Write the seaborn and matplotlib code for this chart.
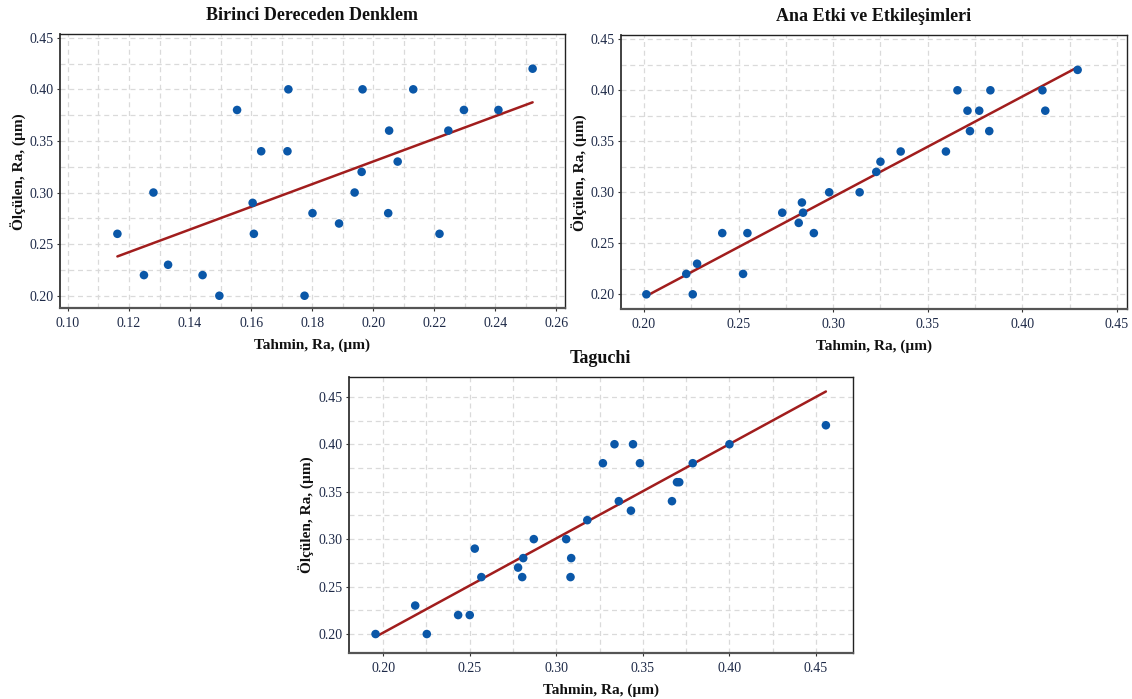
import numpy as np
import pandas as pd
import matplotlib
matplotlib.use("Agg")
import matplotlib.pyplot as plt
from matplotlib.ticker import MultipleLocator, FormatStrFormatter
import seaborn as sns

# Birinci Dereceden Denklem: predicted vs measured Ra
birinci_tahmin = [0.1162, 0.1249, 0.1280, 0.1328, 0.1441, 0.1496, 0.1554, 0.1605, 0.1609,
                  0.1633, 0.1719, 0.1722, 0.1775, 0.1801, 0.1888, 0.1939, 0.1962, 0.1965,
                  0.2049, 0.2052, 0.2080, 0.2131, 0.2217, 0.2246, 0.2297, 0.2410, 0.2522]
birinci_olculen = [0.26, 0.22, 0.30, 0.23, 0.22, 0.20, 0.38, 0.29, 0.26,
                   0.34, 0.34, 0.40, 0.20, 0.28, 0.27, 0.30, 0.32, 0.40,
                   0.28, 0.36, 0.33, 0.40, 0.26, 0.36, 0.38, 0.38, 0.42]

# Ana Etki ve Etkileşimleri
etki_tahmin = [0.2013, 0.2224, 0.2258, 0.2281, 0.2414, 0.2524, 0.2547, 0.2731, 0.2818,
               0.2835, 0.2841, 0.2898, 0.2979, 0.3140, 0.3228, 0.3250, 0.3357, 0.3596,
               0.3657, 0.3710, 0.3723, 0.3772, 0.3825, 0.3831, 0.4106, 0.4121, 0.4292]
etki_olculen = [0.20, 0.22, 0.20, 0.23, 0.26, 0.22, 0.26, 0.28, 0.27,
                0.29, 0.28, 0.26, 0.30, 0.30, 0.32, 0.33, 0.34, 0.34,
                0.40, 0.38, 0.36, 0.38, 0.36, 0.40, 0.40, 0.38, 0.42]

# Taguchi
taguchi_tahmin = [0.1956, 0.2185, 0.2252, 0.2433, 0.2500, 0.2529, 0.2567, 0.2779, 0.2803,
                  0.2809, 0.2870, 0.3057, 0.3082, 0.3086, 0.3179, 0.3269, 0.3336, 0.3361,
                  0.3431, 0.3443, 0.3483, 0.3668, 0.3697, 0.3710, 0.3788, 0.4000, 0.4557]
taguchi_olculen = [0.20, 0.23, 0.20, 0.22, 0.22, 0.29, 0.26, 0.27, 0.26,
                   0.28, 0.30, 0.30, 0.26, 0.28, 0.32, 0.38, 0.40, 0.34,
                   0.33, 0.40, 0.38, 0.34, 0.36, 0.36, 0.38, 0.40, 0.42]

# fitted line coefficients (intercept, slope)
fit_birinci = [0.1105, 1.098]
fit_etki = [0.0003, 0.984]
fit_taguchi = [0.0026, 0.994]

titles = ["Birinci Dereceden Denklem", "Ana Etki ve Etkileşimleri", "Taguchi"]
x_label = "Tahmin, Ra, (µm)"
y_label = "Ölçülen, Ra, (µm)"

sns.set_theme(style="white")
plt.rcParams["font.family"] = ["Liberation Serif", "DejaVu Serif"]

point_color = "#0A57A8"
line_color = "#A11D1D"
tick_color = "#1E2A48"

fig = plt.figure(figsize=(11.32, 6.99), dpi=100)

panels = [
    dict(rect=[0.0530, 0.5589, 0.4461, 0.3920], x=birinci_tahmin, y=birinci_olculen,
         fit=fit_birinci, title=titles[0], xlim=(0.0974, 0.2628), ylim=(0.1878, 0.4533),
         xmaj=0.02, xmin=0.01),
    dict(rect=[0.5486, 0.5575, 0.4470, 0.3920], x=etki_tahmin, y=etki_olculen,
         fit=fit_etki, title=titles[1], xlim=(0.1879, 0.4553), ylim=(0.1853, 0.4539),
         xmaj=0.05, xmin=0.025),
    dict(rect=[0.3079, 0.0662, 0.4457, 0.3948], x=taguchi_tahmin, y=taguchi_olculen,
         fit=fit_taguchi, title=titles[2], xlim=(0.1800, 0.4714), ylim=(0.1803, 0.4711),
         xmaj=0.05, xmin=0.025),
]

for p in panels:
    ax = fig.add_axes(p["rect"])
    df = pd.DataFrame({"tahmin": p["x"], "olculen": p["y"]})
    b0, b1 = p["fit"]
    xs = np.array([df["tahmin"].min(), df["tahmin"].max()])
    sns.lineplot(x=xs, y=b0 + b1 * xs, ax=ax, color=line_color, linewidth=1.8, zorder=3)
    sns.scatterplot(data=df, x="tahmin", y="olculen", ax=ax, color=point_color,
                    s=38, edgecolor="none", zorder=4)
    ax.set_xlim(*p["xlim"])
    ax.set_ylim(*p["ylim"])
    ax.xaxis.set_major_locator(MultipleLocator(p["xmaj"]))
    ax.xaxis.set_minor_locator(MultipleLocator(p["xmin"]))
    ax.yaxis.set_major_locator(MultipleLocator(0.05))
    ax.yaxis.set_minor_locator(MultipleLocator(0.025))
    ax.xaxis.set_major_formatter(FormatStrFormatter("%.2f"))
    ax.yaxis.set_major_formatter(FormatStrFormatter("%.2f"))
    ax.grid(True, which="both", color="#DADADA", linestyle=(0, (4, 3)), linewidth=0.9)
    ax.set_axisbelow(True)
    ax.tick_params(axis="both", which="major", labelsize=10, labelcolor=tick_color,
                   color="#333333", length=2.5, width=0.8, pad=2, direction="out",
                   bottom=True, left=True)
    ax.tick_params(axis="x", which="major", pad=4)
    ax.tick_params(axis="both", which="minor", length=0)
    for side, sp in ax.spines.items():
        sp.set_visible(True)
        sp.set_color("#222222")
        sp.set_linewidth(1.0)
    ax.spines["bottom"].set_color("#555555")
    ax.spines["bottom"].set_linewidth(1.6)
    ax.spines["left"].set_color("#333333")
    ax.spines["left"].set_linewidth(1.3)
    ax.set_title(p["title"], fontsize=13, fontweight="bold", pad=10, color="#111111")
    ax.set_xlabel(x_label, fontsize=11, fontweight="bold", labelpad=6, color="#111111")
    ax.set_ylabel(y_label, fontsize=11, fontweight="bold", labelpad=2, color="#111111")

fig.savefig("out.png", dpi=100, facecolor="white")
